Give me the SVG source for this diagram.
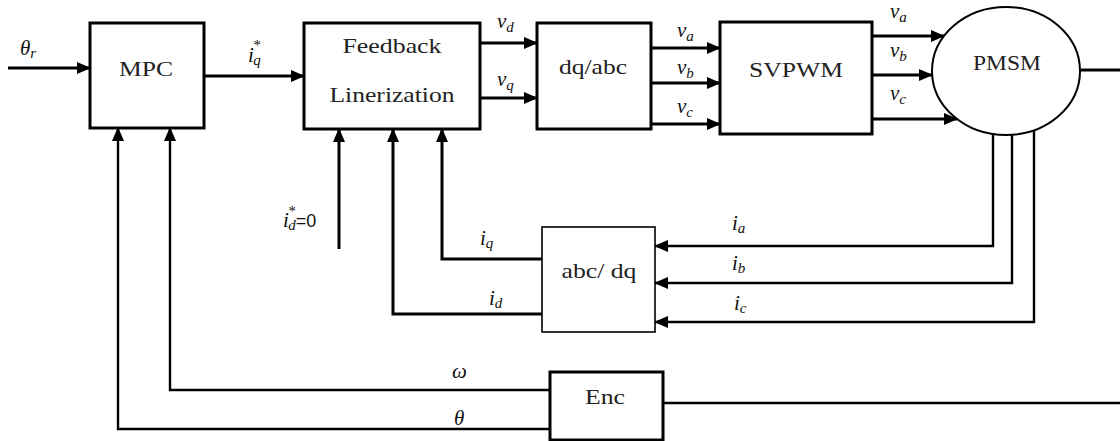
<svg xmlns="http://www.w3.org/2000/svg" width="1120" height="441" viewBox="0 0 1120 441">
  <style>
    .blk { fill: #fff; stroke: #000; stroke-width: 3; }
    .thin { fill: #fff; stroke: #000; stroke-width: 1.6; }
    .wire { fill: none; stroke: #000; stroke-width: 3; }
    .wire2 { fill: none; stroke: #000; stroke-width: 2.4; }
    .name { font-family: "Liberation Serif", "Times New Roman", serif; font-size: 22px; fill: #222; }
    .math { font-family: "Liberation Serif", "Times New Roman", serif; font-style: italic; font-size: 21px; fill: #111; }
    .sub { font-size: 15px; }
    .sans { font-family: "Liberation Sans", Arial, sans-serif; font-style: normal; font-size: 18px; }
  </style>
  <defs>
    <marker id="arrow" markerUnits="userSpaceOnUse" markerWidth="14" markerHeight="12" refX="13" refY="6" orient="auto">
      <path d="M0,0 L14,6 L0,12 Z" fill="#000"/>
    </marker>
  </defs>
  <rect width="1120" height="441" fill="#fff"/>

  <!-- signal lines -->
  <g id="connectors">
    <line class="wire" x1="8" y1="68" x2="90" y2="68" marker-end="url(#arrow)"/>
    <line class="wire" x1="204" y1="76" x2="304" y2="76" marker-end="url(#arrow)"/>
    <line class="wire" x1="480" y1="43" x2="537" y2="43" marker-end="url(#arrow)"/>
    <line class="wire" x1="480" y1="98" x2="537" y2="98" marker-end="url(#arrow)"/>
    <line class="wire" x1="651" y1="48" x2="720" y2="48" marker-end="url(#arrow)"/>
    <line class="wire" x1="651" y1="83" x2="720" y2="83" marker-end="url(#arrow)"/>
    <line class="wire" x1="651" y1="124" x2="720" y2="124" marker-end="url(#arrow)"/>
    <line class="wire" x1="872" y1="36" x2="944" y2="36" marker-end="url(#arrow)"/>
    <line class="wire" x1="872" y1="75" x2="932" y2="75" marker-end="url(#arrow)"/>
    <line class="wire" x1="872" y1="119" x2="957" y2="119" marker-end="url(#arrow)"/>
    <line class="wire" x1="1081" y1="70" x2="1120" y2="70"/>
    <!-- phase currents back to abc/dq -->
    <polyline class="wire2" points="993,134 993,246 655,246" marker-end="url(#arrow)"/>
    <polyline class="wire2" points="1012,135 1012,283 655,283" marker-end="url(#arrow)"/>
    <polyline class="wire2" points="1034,130 1034,322 655,322" marker-end="url(#arrow)"/>
    <!-- dq currents to the linearizing controller -->
    <polyline class="wire" points="542,259 442,259 442,129" marker-end="url(#arrow)"/>
    <polyline class="wire" points="542,314 393,314 393,129" marker-end="url(#arrow)"/>
    <line class="wire" x1="339" y1="249" x2="339" y2="129" marker-end="url(#arrow)"/>
    <!-- encoder feedback -->
    <polyline class="wire2" points="550,390 170,390 170,128" marker-end="url(#arrow)"/>
    <polyline class="wire2" points="550,429 118,429 118,128" marker-end="url(#arrow)"/>
    <line class="wire2" x1="663" y1="403" x2="1120" y2="403"/>
  </g>

  <g id="mpc">
    <rect class="blk" x="90" y="23" width="114" height="105"/>
    <text class="name" x="146" y="76" text-anchor="middle" textLength="54" lengthAdjust="spacingAndGlyphs">MPC</text>
  </g>
  <g id="feedback-linearization">
    <rect class="blk" x="304" y="23" width="176" height="106"/>
    <text class="name" x="392" y="53" text-anchor="middle" textLength="99" lengthAdjust="spacingAndGlyphs">Feedback</text>
    <text class="name" x="392" y="102" text-anchor="middle" textLength="125" lengthAdjust="spacingAndGlyphs">Linerization</text>
  </g>
  <g id="dq-abc">
    <rect class="blk" x="537" y="23" width="114" height="106"/>
    <text class="name" x="593" y="74" text-anchor="middle" textLength="68" lengthAdjust="spacingAndGlyphs">dq/abc</text>
  </g>
  <g id="svpwm">
    <rect class="blk" x="720" y="22" width="152" height="112"/>
    <text class="name" x="796" y="77" text-anchor="middle" textLength="94" lengthAdjust="spacingAndGlyphs">SVPWM</text>
  </g>
  <g id="pmsm">
    <ellipse cx="1006" cy="71" rx="74" ry="64" fill="#fff" stroke="#000" stroke-width="2"/>
    <text class="name" x="1007" y="70" text-anchor="middle" font-size="19" textLength="68" lengthAdjust="spacingAndGlyphs">PMSM</text>
  </g>
  <g id="abc-dq">
    <rect class="thin" x="542" y="227" width="113" height="105"/>
    <text class="name" x="599" y="278" text-anchor="middle" textLength="75" lengthAdjust="spacingAndGlyphs">abc/ dq</text>
  </g>
  <g id="enc">
    <rect class="blk" x="550" y="372" width="113" height="68" stroke-width="2.4"/>
    <text class="name" x="605" y="404" text-anchor="middle" font-size="20" textLength="40" lengthAdjust="spacingAndGlyphs">Enc</text>
  </g>

  <!-- signal labels -->
  <g id="labels">
    <text class="math" x="20" y="55">θ<tspan class="sub" dy="3">r</tspan></text>
    <text class="math" x="248" y="62">i<tspan class="sub" dx="-1" dy="-12">*</tspan><tspan class="sub" dx="-7" dy="15">q</tspan></text>
    <text class="math" x="497" y="28">v<tspan class="sub" dy="4">d</tspan></text>
    <text class="math" x="497" y="86">v<tspan class="sub" dy="4">q</tspan></text>
    <text class="math" x="677" y="37">v<tspan class="sub" dy="4">a</tspan></text>
    <text class="math" x="677" y="74">v<tspan class="sub" dy="4">b</tspan></text>
    <text class="math" x="677" y="113">v<tspan class="sub" dy="4">c</tspan></text>
    <text class="math" x="890" y="18">v<tspan class="sub" dy="4">a</tspan></text>
    <text class="math" x="890" y="57">v<tspan class="sub" dy="4">b</tspan></text>
    <text class="math" x="890" y="100">v<tspan class="sub" dy="4">c</tspan></text>
    <text class="math" x="732" y="230">i<tspan class="sub" dy="3">a</tspan></text>
    <text class="math" x="732" y="270">i<tspan class="sub" dy="3">b</tspan></text>
    <text class="math" x="734" y="310">i<tspan class="sub" dy="3">c</tspan></text>
    <text class="math" x="480" y="245">i<tspan class="sub" dy="3">q</tspan></text>
    <text class="math" x="489" y="305">i<tspan class="sub" dy="3">d</tspan></text>
    <text class="math" x="283" y="227">i<tspan class="sub" dx="-1" dy="-11">*</tspan><tspan class="sub" dx="-7" dy="14">d</tspan><tspan class="sans" dy="-3">=0</tspan></text>
    <text class="math" x="452" y="378" font-size="16">ω</text>
    <text class="math" x="454" y="425">θ</text>
  </g>
</svg>
